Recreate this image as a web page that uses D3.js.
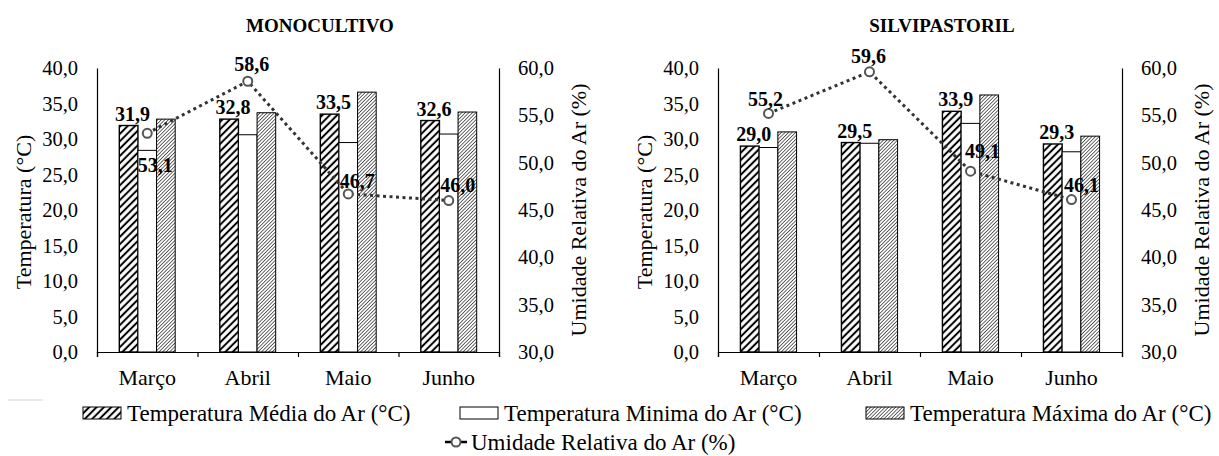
<!DOCTYPE html>
<html>
<head>
<meta charset="utf-8">
<script src="https://cdn.jsdelivr.net/npm/d3@7/dist/d3.min.js"></script>
<style>
    body { margin: 0; background: #fff; }
    svg text { font-family: "Liberation Serif", "Times New Roman", "DejaVu Serif", serif; fill: #000; }
</style>
</head>
<body>
<div class="chart-container"></div>
<script>
const months = ["Março", "Abril", "Maio", "Junho"];
const tempTicks = [0, 5, 10, 15, 20, 25, 30, 35, 40];
const humTicks = [30, 35, 40, 45, 50, 55, 60];

const monoMedia = [31.9, 32.8, 33.5, 32.6];
const monoMinima = [28.4, 30.6, 29.5, 30.7];
const monoMaxima = [32.8, 33.7, 36.6, 33.8];
const monoUmidade = [53.1, 58.6, 46.7, 46.0];

const silviMedia = [29.0, 29.5, 33.9, 29.3];
const silviMinima = [28.8, 29.4, 32.2, 28.2];
const silviMaxima = [31.0, 29.9, 36.2, 30.4];
const silviUmidade = [55.2, 59.6, 49.1, 46.1];

// where each humidity label sits relative to its marker (dx, dy of baseline)
const monoLabelOffsets = [[8, 39], [4, -10], [9, -6], [9, -9]];
const silviLabelOffsets = [[-3, -7], [-1, -9], [12, -13], [10, -8]];

const fmt = d => d3.format(".1f")(d).replace(".", ",");

const svg = d3.select(".chart-container")
    .append("svg")
    .attr("width", 1219)
    .attr("height", 456);

const defs = svg.append("defs");

const meanPattern = defs.append("pattern")
    .attr("id", "hatchMean")
    .attr("patternUnits", "userSpaceOnUse")
    .attr("width", 5.2)
    .attr("height", 5.2)
    .attr("patternTransform", "rotate(45)");
meanPattern.append("rect").attr("width", 5.2).attr("height", 5.2).attr("fill", "#fff");
meanPattern.append("line")
    .attr("x1", 2.6).attr("y1", 0).attr("x2", 2.6).attr("y2", 5.2)
    .attr("stroke", "#000").attr("stroke-width", 2.0);

const maxPattern = defs.append("pattern")
    .attr("id", "hatchMax")
    .attr("patternUnits", "userSpaceOnUse")
    .attr("width", 2.5)
    .attr("height", 2.5)
    .attr("patternTransform", "rotate(45)");
maxPattern.append("rect").attr("width", 2.5).attr("height", 2.5).attr("fill", "#fff");
maxPattern.append("line")
    .attr("x1", 1.25).attr("y1", 0).attr("x2", 1.25).attr("y2", 2.5)
    .attr("stroke", "#444").attr("stroke-width", 0.8);

const seriesKeys = ["media", "minima", "maxima"];
const seriesFill = { media: "url(#hatchMean)", minima: "#fff", maxima: "url(#hatchMax)" };

function drawPanel(p) {
    const top = 68, bottom = 352;

    const xScale = d3.scaleBand().domain(months).range([p.left, p.right]);
    const bw = xScale.bandwidth();
    const xInner = d3.scaleBand().domain(seriesKeys).range([bw * 0.222, bw * 0.778]);
    const xIdx = d3.scaleLinear().domain([0, months.length]).range([p.left, p.right]);

    const yTemp = d3.scaleLinear().domain([0, 40]).range([bottom, top]);
    const yHum = d3.scaleLinear().domain([30, 60]).range([bottom, top]);

    const g = svg.append("g");

    // bars
    const rows = months.map((m, i) => ({
        month: m,
        media: p.media[i],
        minima: p.minima[i],
        maxima: p.maxima[i]
    }));

    rows.forEach(r => {
        seriesKeys.forEach(k => {
            g.append("rect")
                .attr("x", xScale(r.month) + xInner(k))
                .attr("y", yTemp(r[k]))
                .attr("width", xInner.bandwidth())
                .attr("height", yTemp(0) - yTemp(r[k]))
                .attr("fill", seriesFill[k])
                .attr("stroke", "#000")
                .attr("stroke-width", k === "media" ? 1.4 : 1);
        });
    });

    // mean labels
    g.selectAll(".meanLabel")
        .data(rows)
        .enter()
        .append("text")
        .attr("x", d => xScale(d.month) + xInner("media") + xInner.bandwidth() / 2 + 4)
        .attr("y", d => yTemp(d.media) - 5)
        .attr("text-anchor", "middle")
        .attr("font-size", "20px")
        .attr("font-weight", "bold")
        .text(d => fmt(d.media));

    // axes
    const xAxis = d3.axisBottom(xIdx)
        .tickValues(d3.range(months.length + 1))
        .tickSize(5)
        .tickFormat("");
    g.append("g")
        .attr("transform", `translate(0, ${bottom})`)
        .call(xAxis)
        .call(s => s.selectAll("path, line").attr("stroke", "#000").attr("stroke-width", 1.2));

    const xLabels = d3.axisBottom(xScale).tickSize(0).tickPadding(17);
    g.append("g")
        .attr("transform", `translate(0, ${bottom})`)
        .call(xLabels)
        .call(s => s.select(".domain").remove())
        .call(s => s.selectAll("text").attr("font-size", "22px"));

    const yAxisL = d3.axisLeft(yTemp).tickValues(tempTicks).tickSize(0).tickPadding(19).tickFormat(fmt);
    g.append("g")
        .attr("transform", `translate(${p.left}, 0)`)
        .call(yAxisL)
        .call(s => s.select(".domain").attr("stroke", "#000").attr("stroke-width", 1.2))
        .call(s => s.selectAll("text").attr("font-size", "20.5px"));

    const yAxisR = d3.axisRight(yHum).tickValues(humTicks).tickSize(0).tickPadding(19).tickFormat(fmt);
    g.append("g")
        .attr("transform", `translate(${p.right}, 0)`)
        .call(yAxisR)
        .call(s => s.select(".domain").attr("stroke", "#000").attr("stroke-width", 1.2))
        .call(s => s.selectAll("text").attr("font-size", "20.5px"));

    // humidity line
    const cx = i => xScale(months[i]) + bw / 2;
    const line = d3.line()
        .x((d, i) => cx(i))
        .y(d => yHum(d));

    g.append("path")
        .datum(p.umidade)
        .attr("d", line)
        .attr("fill", "none")
        .attr("stroke", "#333")
        .attr("stroke-width", 3)
        .attr("stroke-dasharray", "3 3.5");

    g.selectAll(".hum")
        .data(p.umidade)
        .enter()
        .append("circle")
        .attr("cx", (d, i) => cx(i))
        .attr("cy", d => yHum(d))
        .attr("r", 4.5)
        .attr("fill", "#fff")
        .attr("stroke", "#555")
        .attr("stroke-width", 2);

    g.selectAll(".humLabel")
        .data(p.umidade)
        .enter()
        .append("text")
        .attr("x", (d, i) => cx(i) + p.labelOffsets[i][0])
        .attr("y", (d, i) => yHum(d) + p.labelOffsets[i][1])
        .attr("text-anchor", "middle")
        .attr("font-size", "20px")
        .attr("font-weight", "bold")
        .text(d => fmt(d));

    // titles
    g.append("text")
        .attr("x", (p.left + p.right) / 2 + 22)
        .attr("y", 32)
        .attr("text-anchor", "middle")
        .attr("font-size", "19px")
        .attr("font-weight", "bold")
        .text(p.title);

    g.append("text")
        .attr("transform", `translate(${p.left - 66}, ${(top + bottom) / 2 + 2}) rotate(-90)`)
        .attr("text-anchor", "middle")
        .attr("font-size", "22px")
        .text("Temperatura (°C)");

    g.append("text")
        .attr("transform", `translate(${p.right + 87}, ${(top + bottom) / 2}) rotate(-90)`)
        .attr("text-anchor", "middle")
        .attr("font-size", "22px")
        .text("Umidade Relativa do Ar (%)");
}

drawPanel({
    title: "MONOCULTIVO",
    left: 97, right: 499,
    media: monoMedia, minima: monoMinima, maxima: monoMaxima, umidade: monoUmidade,
    labelOffsets: monoLabelOffsets
});

drawPanel({
    title: "SILVIPASTORIL",
    left: 718, right: 1122,
    media: silviMedia, minima: silviMinima, maxima: silviMaxima, umidade: silviUmidade,
    labelOffsets: silviLabelOffsets
});

// legend
const legend = svg.append("g").attr("font-size", "23px");
const legendItems = [
    { x: 83, fill: "url(#hatchMean)", label: "Temperatura Média do Ar (°C)" },
    { x: 460, fill: "#fff", label: "Temperatura Minima do Ar (°C)" },
    { x: 866, fill: "url(#hatchMax)", label: "Temperatura Máxima do Ar (°C)" }
];

legendItems.forEach(d => {
    legend.append("rect")
        .attr("x", d.x).attr("y", 407)
        .attr("width", 38).attr("height", 12)
        .attr("fill", d.fill)
        .attr("stroke", "#000")
        .attr("stroke-width", 1);
    legend.append("text")
        .attr("x", d.x + 44).attr("y", 421)
        .text(d.label);
});

legend.append("line")
    .attr("x1", 445).attr("x2", 467).attr("y1", 442).attr("y2", 442)
    .attr("stroke", "#000").attr("stroke-width", 2.5);
legend.append("circle")
    .attr("cx", 456).attr("cy", 442).attr("r", 4.5)
    .attr("fill", "#fff").attr("stroke", "#555").attr("stroke-width", 2);
legend.append("text")
    .attr("x", 471).attr("y", 450)
    .text("Umidade Relativa do Ar (%)");

// faint stray line in the original figure
svg.append("line")
    .attr("x1", 8).attr("x2", 43).attr("y1", 400).attr("y2", 400)
    .attr("stroke", "#e3e3e3").attr("stroke-width", 1.5);
</script>
</body>
</html>
